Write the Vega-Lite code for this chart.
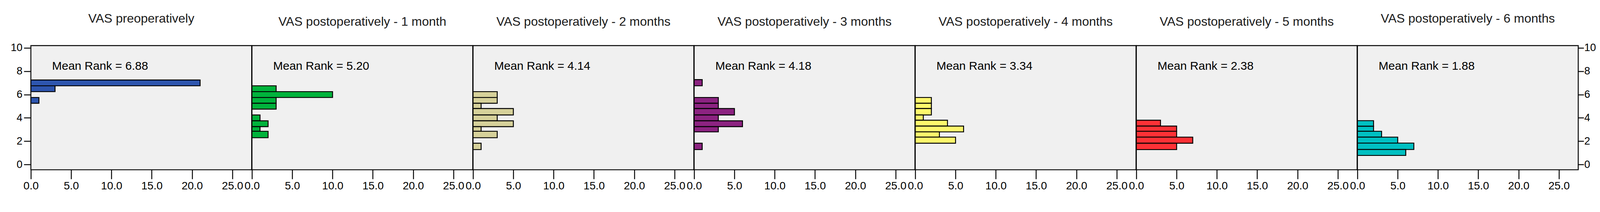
{
  "$schema": "https://vega.github.io/schema/vega-lite/v6.json",
  "padding": {"left": 25, "top": 30, "right": 0, "bottom": 0},
  "background": "white",
  "datasets": {
    "vas": [
      {"panel": "pre", "lo": 6.75, "hi": 7.25, "n": 21},
      {"panel": "pre", "lo": 6.25, "hi": 6.75, "n": 3},
      {"panel": "pre", "lo": 5.25, "hi": 5.75, "n": 1},
      {"panel": "pre", "label": "Mean Rank = 6.88"},
      {"panel": "m1", "lo": 6.25, "hi": 6.75, "n": 3},
      {"panel": "m1", "lo": 5.75, "hi": 6.25, "n": 10},
      {"panel": "m1", "lo": 5.25, "hi": 5.75, "n": 3},
      {"panel": "m1", "lo": 4.75, "hi": 5.25, "n": 3},
      {"panel": "m1", "lo": 3.75, "hi": 4.25, "n": 1},
      {"panel": "m1", "lo": 3.25, "hi": 3.75, "n": 2},
      {"panel": "m1", "lo": 2.85, "hi": 3.25, "n": 1},
      {"panel": "m1", "lo": 2.3, "hi": 2.85, "n": 2},
      {"panel": "m1", "label": "Mean Rank = 5.20"},
      {"panel": "m2", "lo": 5.75, "hi": 6.25, "n": 3},
      {"panel": "m2", "lo": 5.25, "hi": 5.75, "n": 3},
      {"panel": "m2", "lo": 4.8, "hi": 5.25, "n": 1},
      {"panel": "m2", "lo": 4.25, "hi": 4.8, "n": 5},
      {"panel": "m2", "lo": 3.75, "hi": 4.25, "n": 3},
      {"panel": "m2", "lo": 3.25, "hi": 3.75, "n": 5},
      {"panel": "m2", "lo": 2.85, "hi": 3.25, "n": 1},
      {"panel": "m2", "lo": 2.3, "hi": 2.85, "n": 3},
      {"panel": "m2", "lo": 1.28, "hi": 1.83, "n": 1},
      {"panel": "m2", "label": "Mean Rank = 4.14"},
      {"panel": "m3", "lo": 6.75, "hi": 7.28, "n": 1},
      {"panel": "m3", "lo": 5.25, "hi": 5.75, "n": 3},
      {"panel": "m3", "lo": 4.8, "hi": 5.25, "n": 3},
      {"panel": "m3", "lo": 4.25, "hi": 4.8, "n": 5},
      {"panel": "m3", "lo": 3.75, "hi": 4.25, "n": 3},
      {"panel": "m3", "lo": 3.25, "hi": 3.75, "n": 6},
      {"panel": "m3", "lo": 2.8, "hi": 3.25, "n": 3},
      {"panel": "m3", "lo": 1.28, "hi": 1.83, "n": 1},
      {"panel": "m3", "label": "Mean Rank = 4.18"},
      {"panel": "m4", "lo": 5.25, "hi": 5.75, "n": 2},
      {"panel": "m4", "lo": 4.8, "hi": 5.25, "n": 2},
      {"panel": "m4", "lo": 4.25, "hi": 4.8, "n": 2},
      {"panel": "m4", "lo": 3.8, "hi": 4.25, "n": 1},
      {"panel": "m4", "lo": 3.3, "hi": 3.8, "n": 4},
      {"panel": "m4", "lo": 2.8, "hi": 3.3, "n": 6},
      {"panel": "m4", "lo": 2.35, "hi": 2.8, "n": 3},
      {"panel": "m4", "lo": 1.83, "hi": 2.35, "n": 5},
      {"panel": "m4", "label": "Mean Rank = 3.34"},
      {"panel": "m5", "lo": 3.3, "hi": 3.8, "n": 3},
      {"panel": "m5", "lo": 2.85, "hi": 3.3, "n": 5},
      {"panel": "m5", "lo": 2.35, "hi": 2.85, "n": 5},
      {"panel": "m5", "lo": 1.83, "hi": 2.35, "n": 7},
      {"panel": "m5", "lo": 1.28, "hi": 1.83, "n": 5},
      {"panel": "m5", "label": "Mean Rank = 2.38"},
      {"panel": "m6", "lo": 3.28, "hi": 3.76, "n": 2},
      {"panel": "m6", "lo": 2.85, "hi": 3.28, "n": 2},
      {"panel": "m6", "lo": 2.35, "hi": 2.85, "n": 3},
      {"panel": "m6", "lo": 1.84, "hi": 2.35, "n": 5},
      {"panel": "m6", "lo": 1.29, "hi": 1.84, "n": 7},
      {"panel": "m6", "lo": 0.78, "hi": 1.29, "n": 6},
      {"panel": "m6", "label": "Mean Rank = 1.88"}
    ]
  },
  "spacing": 0,
  "bounds": "flush",
  "hconcat": [
    {
      "width": 565.3, "height": 318.6,
      "title": "VAS preoperatively",
      "data": {"name": "vas"},
      "transform": [{"filter": "datum.panel == 'pre'"}],
      "layer": [
        {
          "transform": [{"filter": "datum.n != null"}],
          "mark": {"type": "bar", "orient": "horizontal", "fill": "#2e55ae"},
          "encoding": {
            "x": {"field": "n", "type": "quantitative", "scale": {"domain": [0, 27.4], "nice": false}},
            "y": {"field": "lo", "type": "quantitative", "scale": {"domain": [-0.28, 10.03], "nice": false, "zero": false}, "axis": {"orient": "left", "tickSize": 18}},
            "y2": {"field": "hi"}
          }
        },
        {
          "transform": [{"filter": "datum.label != null"}],
          "mark": {"type": "text"},
          "encoding": {"x": {"datum": 2.63, "type": "quantitative"}, "y": {"datum": 8.41, "type": "quantitative", "axis": {"orient": "left", "tickSize": 18}}, "text": {"field": "label"}}
        }
      ]
    },
    {
      "width": 565.3, "height": 318.6,
      "title": "VAS postoperatively - 1 month",
      "data": {"name": "vas"},
      "transform": [{"filter": "datum.panel == 'm1'"}],
      "layer": [
        {
          "transform": [{"filter": "datum.n != null"}],
          "mark": {"type": "bar", "orient": "horizontal", "fill": "#00b33c"},
          "encoding": {
            "x": {"field": "n", "type": "quantitative", "scale": {"domain": [0, 27.4], "nice": false}},
            "y": {"field": "lo", "type": "quantitative", "scale": {"domain": [-0.28, 10.03], "nice": false, "zero": false}, "axis": null},
            "y2": {"field": "hi"}
          }
        },
        {
          "transform": [{"filter": "datum.label != null"}],
          "mark": {"type": "text"},
          "encoding": {"x": {"datum": 2.63, "type": "quantitative"}, "y": {"datum": 8.41, "type": "quantitative"}, "text": {"field": "label"}}
        }
      ]
    },
    {
      "width": 565.3, "height": 318.6,
      "title": "VAS postoperatively - 2 months",
      "data": {"name": "vas"},
      "transform": [{"filter": "datum.panel == 'm2'"}],
      "layer": [
        {
          "transform": [{"filter": "datum.n != null"}],
          "mark": {"type": "bar", "orient": "horizontal", "fill": "#d6d19a"},
          "encoding": {
            "x": {"field": "n", "type": "quantitative", "scale": {"domain": [0, 27.4], "nice": false}},
            "y": {"field": "lo", "type": "quantitative", "scale": {"domain": [-0.28, 10.03], "nice": false, "zero": false}, "axis": null},
            "y2": {"field": "hi"}
          }
        },
        {
          "transform": [{"filter": "datum.label != null"}],
          "mark": {"type": "text"},
          "encoding": {"x": {"datum": 2.63, "type": "quantitative"}, "y": {"datum": 8.41, "type": "quantitative"}, "text": {"field": "label"}}
        }
      ]
    },
    {
      "width": 565.3, "height": 318.6,
      "title": "VAS postoperatively - 3 months",
      "data": {"name": "vas"},
      "transform": [{"filter": "datum.panel == 'm3'"}],
      "layer": [
        {
          "transform": [{"filter": "datum.n != null"}],
          "mark": {"type": "bar", "orient": "horizontal", "fill": "#8c2381"},
          "encoding": {
            "x": {"field": "n", "type": "quantitative", "scale": {"domain": [0, 27.4], "nice": false}},
            "y": {"field": "lo", "type": "quantitative", "scale": {"domain": [-0.28, 10.03], "nice": false, "zero": false}, "axis": null},
            "y2": {"field": "hi"}
          }
        },
        {
          "transform": [{"filter": "datum.label != null"}],
          "mark": {"type": "text"},
          "encoding": {"x": {"datum": 2.63, "type": "quantitative"}, "y": {"datum": 8.41, "type": "quantitative"}, "text": {"field": "label"}}
        }
      ]
    },
    {
      "width": 565.3, "height": 318.6,
      "title": "VAS postoperatively - 4 months",
      "data": {"name": "vas"},
      "transform": [{"filter": "datum.panel == 'm4'"}],
      "layer": [
        {
          "transform": [{"filter": "datum.n != null"}],
          "mark": {"type": "bar", "orient": "horizontal", "fill": "#fff86c"},
          "encoding": {
            "x": {"field": "n", "type": "quantitative", "scale": {"domain": [0, 27.4], "nice": false}},
            "y": {"field": "lo", "type": "quantitative", "scale": {"domain": [-0.28, 10.03], "nice": false, "zero": false}, "axis": null},
            "y2": {"field": "hi"}
          }
        },
        {
          "transform": [{"filter": "datum.label != null"}],
          "mark": {"type": "text"},
          "encoding": {"x": {"datum": 2.63, "type": "quantitative"}, "y": {"datum": 8.41, "type": "quantitative"}, "text": {"field": "label"}}
        }
      ]
    },
    {
      "width": 565.3, "height": 318.6,
      "title": "VAS postoperatively - 5 months",
      "data": {"name": "vas"},
      "transform": [{"filter": "datum.panel == 'm5'"}],
      "layer": [
        {
          "transform": [{"filter": "datum.n != null"}],
          "mark": {"type": "bar", "orient": "horizontal", "fill": "#ff3136"},
          "encoding": {
            "x": {"field": "n", "type": "quantitative", "scale": {"domain": [0, 27.4], "nice": false}},
            "y": {"field": "lo", "type": "quantitative", "scale": {"domain": [-0.28, 10.03], "nice": false, "zero": false}, "axis": null},
            "y2": {"field": "hi"}
          }
        },
        {
          "transform": [{"filter": "datum.label != null"}],
          "mark": {"type": "text"},
          "encoding": {"x": {"datum": 2.63, "type": "quantitative"}, "y": {"datum": 8.41, "type": "quantitative"}, "text": {"field": "label"}}
        }
      ]
    },
    {
      "width": 565.3, "height": 318.6,
      "title": "VAS postoperatively - 6 months",
      "data": {"name": "vas"},
      "transform": [{"filter": "datum.panel == 'm6'"}],
      "layer": [
        {
          "transform": [{"filter": "datum.n != null"}],
          "mark": {"type": "bar", "orient": "horizontal", "fill": "#00c0c2"},
          "encoding": {
            "x": {"field": "n", "type": "quantitative", "scale": {"domain": [0, 27.4], "nice": false}},
            "y": {"field": "lo", "type": "quantitative", "scale": {"domain": [-0.28, 10.03], "nice": false, "zero": false}, "axis": {"orient": "right", "tickSize": 14, "labelPadding": 1}},
            "y2": {"field": "hi"}
          }
        },
        {
          "transform": [{"filter": "datum.label != null"}],
          "mark": {"type": "text"},
          "encoding": {"x": {"datum": 2.63, "type": "quantitative"}, "y": {"datum": 8.41, "type": "quantitative", "axis": {"orient": "right", "tickSize": 14, "labelPadding": 1}}, "text": {"field": "label"}}
        }
      ]
    }
  ],
  "config": {
    "view": {"fill": "#f0f0f0", "stroke": "black", "strokeWidth": 2.4},
    "bar": {"stroke": "black", "strokeWidth": 2.4},
    "text": {
      "align": "left",
      "baseline": "middle",
      "font": "Liberation Sans",
      "fontSize": 30,
      "color": "black"
    },
    "title": {
      "font": "Liberation Sans",
      "fontSize": 32,
      "fontWeight": "normal",
      "color": "#1a1a1a",
      "anchor": "middle",
      "baseline": "alphabetic",
      "offset": 44
    },
    "axis": {
      "domain": false,
      "grid": false,
      "title": null,
      "tickColor": "black",
      "tickWidth": 2.4,
      "labelColor": "black",
      "labelFont": "Liberation Sans"
    },
    "axisX": {
      "tickCount": 6,
      "format": ".1f",
      "tickSize": 23.7,
      "labelFontSize": 28,
      "labelPadding": 4,
      "labelOverlap": false,
      "labelBound": false,
      "labelFlush": false
    },
    "axisY": {
      "tickCount": 6,
      "format": "d",
      "labelFontSize": 27,
      "labelPadding": 4,
      "labelOverlap": false,
      "labelBound": false,
      "labelFlush": false
    }
  }
}
